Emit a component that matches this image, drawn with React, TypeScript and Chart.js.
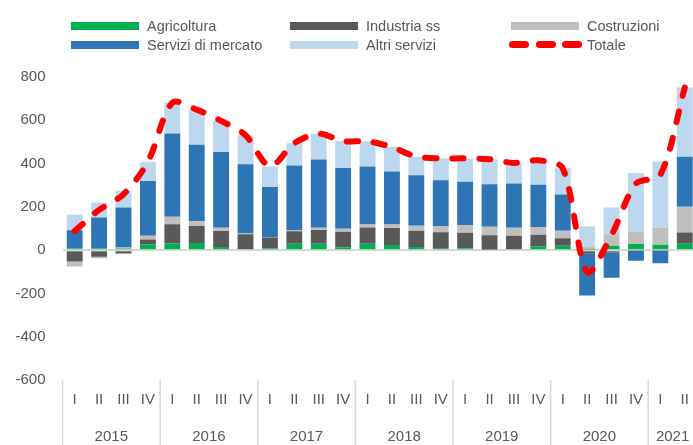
import React, { useEffect, useRef } from 'react';
import { Chart, registerables } from 'chart.js';

Chart.register(...registerables);

const quarters = [
  'I', 'II', 'III', 'IV',
  'I', 'II', 'III', 'IV',
  'I', 'II', 'III', 'IV',
  'I', 'II', 'III', 'IV',
  'I', 'II', 'III', 'IV',
  'I', 'II', 'III', 'IV',
  'I', 'II',
];
const years = ['2015', '2016', '2017', '2018', '2019', '2020', '2021'];
const quartersPerYear = [4, 4, 4, 4, 4, 4, 2];

const agricoltura = [8, 8, 8, 27, 31, 33, 15, 5, 8, 30, 30, 12, 30, 24, 15, 7, 8, 3, 4, 18, 20, 2, 20, 28, 25, 30];
const industria = [-53, -31, -16, 22, 89, 78, 74, 68, 50, 57, 63, 73, 75, 78, 75, 76, 72, 66, 63, 53, 35, -17, -10, -3, -3, 51];
const costruzioni = [-23, -6, 4, 17, 34, 22, 14, 4, 2, 4, 10, 14, 14, 16, 23, 28, 36, 39, 37, 36, 35, 12, 54, 58, 79, 119];
const serviziMercato = [84, 143, 185, 254, 385, 354, 351, 320, 232, 300, 316, 281, 268, 245, 233, 212, 200, 197, 204, 195, 167, -193, -117, -46, -58, 231];
const altriServizi = [71, 69, 77, 88, 142, 162, 143, 134, 95, 103, 119, 124, 116, 113, 86, 101, 108, 115, 95, 113, 121, 95, 123, 270, 305, 320];
const totale = [88, 186, 258, 408, 681, 649, 597, 531, 387, 494, 538, 504, 503, 476, 432, 424, 424, 420, 403, 415, 378, -101, 70, 307, 348, 751];

const yTickMin = -600;
const yTickMax = 800;
const yTickStep = 200;

const FONT = '"Liberation Sans", Arial, sans-serif';
const TEXT = '#595959';
const FONT_SIZE = 15;
const LEGEND_FONT_SIZE = 14.5;

const COLORS = {
  agricoltura: '#00B050',
  industria: '#595959',
  costruzioni: '#BFBFBF',
  servizi: '#2E75B6',
  altri: '#BDD7EE',
  totale: '#FF0000',
};

const yearAxisPlugin = {
  id: 'yearAxis',
  afterDraw(chart: any) {
    const x = chart.scales.x;
    const ctx = chart.ctx;
    const half = (x.getPixelForValue(1) - x.getPixelForValue(0)) / 2;
    let idx = 0;
    ctx.save();
    ctx.strokeStyle = '#D9D9D9';
    ctx.lineWidth = 1.5;
    ctx.fillStyle = TEXT;
    ctx.font = `${FONT_SIZE}px ${FONT}`;
    ctx.textAlign = 'center';
    ctx.textBaseline = 'middle';
    years.forEach((yr, i) => {
      const n = quartersPerYear[i];
      const start = x.getPixelForValue(idx) - half;
      ctx.beginPath();
      ctx.moveTo(start, x.top);
      ctx.lineTo(start, chart.height);
      ctx.stroke();
      const c = (x.getPixelForValue(idx) + x.getPixelForValue(idx + n - 1)) / 2;
      ctx.fillText(yr, c, x.top + 57);
      idx += n;
    });
    ctx.restore();
  },
};

const legendItems = [
  { label: 'Agricoltura', color: COLORS.agricoltura, left: 71, top: 26 },
  { label: 'Industria ss', color: COLORS.industria, left: 290, top: 26 },
  { label: 'Costruzioni', color: COLORS.costruzioni, left: 511, top: 26 },
  { label: 'Servizi di mercato', color: COLORS.servizi, left: 71, top: 44.5 },
  { label: 'Altri servizi', color: COLORS.altri, left: 290, top: 44.5 },
];

function Legend() {
  const textStyle: React.CSSProperties = {
    position: 'absolute',
    fontFamily: FONT,
    fontSize: LEGEND_FONT_SIZE,
    color: TEXT,
    lineHeight: '20px',
    whiteSpace: 'nowrap',
  };
  return (
    <>
      {legendItems.map((it) => (
        <React.Fragment key={it.label}>
          <div
            style={{
              position: 'absolute',
              left: it.left,
              top: it.top - 4,
              width: 68,
              height: 8,
              background: it.color,
            }}
          />
          <div style={{ ...textStyle, left: it.left + 76, top: it.top - 10 }}>{it.label}</div>
        </React.Fragment>
      ))}
      {[0, 1, 2].map((i) => (
        <div
          key={i}
          style={{
            position: 'absolute',
            left: 509 + i * 26.5,
            top: 44.5 - 3.5,
            width: 20,
            height: 7,
            borderRadius: 3.5,
            background: COLORS.totale,
          }}
        />
      ))}
      <div style={{ ...textStyle, left: 587, top: 44.5 - 10 }}>Totale</div>
    </>
  );
}

export default function App() {
  const canvasRef = useRef<HTMLCanvasElement | null>(null);

  useEffect(() => {
    if (!canvasRef.current) return;
    const barCommon = {
      type: 'bar' as const,
      stack: 'a',
      order: 1,
      borderWidth: 0,
      barPercentage: 0.65,
      categoryPercentage: 1,
    };
    const chart = new Chart(canvasRef.current, {
      type: 'bar',
      data: {
        labels: quarters,
        datasets: [
          { ...barCommon, label: 'Agricoltura', data: agricoltura, backgroundColor: COLORS.agricoltura },
          { ...barCommon, label: 'Industria ss', data: industria, backgroundColor: COLORS.industria },
          { ...barCommon, label: 'Costruzioni', data: costruzioni, backgroundColor: COLORS.costruzioni },
          { ...barCommon, label: 'Servizi di mercato', data: serviziMercato, backgroundColor: COLORS.servizi },
          { ...barCommon, label: 'Altri servizi', data: altriServizi, backgroundColor: COLORS.altri },
          {
            type: 'line' as const,
            label: 'Totale',
            data: totale,
            stack: 'total',
            order: 0,
            borderColor: COLORS.totale,
            borderWidth: 6,
            borderDash: [11, 16],
            borderCapStyle: 'round',
            borderJoinStyle: 'round',
            tension: 0.3,
            pointRadius: 0,
            fill: false,
          } as any,
        ],
      },
      options: {
        responsive: false,
        animation: false,
        devicePixelRatio: 1,
        layout: { padding: { top: 77, left: 0, right: 3, bottom: 0 } },
        plugins: { legend: { display: false }, tooltip: { enabled: false }, title: { display: false } },
        scales: {
          x: {
            stacked: true,
            grid: { display: false, drawTicks: false },
            border: { display: false },
            ticks: {
              color: TEXT,
              font: { family: FONT, size: FONT_SIZE },
              padding: 11,
              maxRotation: 0,
              autoSkip: false,
            },
            afterFit: (scale: any) => {
              scale.height = 65;
            },
          },
          y: {
            stacked: true,
            min: yTickMin,
            max: yTickMax,
            grid: {
              drawTicks: false,
              color: (c: any) => (c.tick && c.tick.value === 0 ? '#D9D9D9' : 'rgba(0,0,0,0)'),
              lineWidth: 2,
            },
            border: { display: false },
            ticks: {
              stepSize: yTickStep,
              color: TEXT,
              font: { family: FONT, size: FONT_SIZE },
              padding: 17,
            },
            afterFit: (scale: any) => {
              scale.width = 62.5;
            },
          },
        },
      },
      plugins: [yearAxisPlugin],
    });
    return () => chart.destroy();
  }, []);

  return (
    <div style={{ position: 'fixed', left: 0, top: 0, width: 700, height: 445, overflow: 'hidden', background: '#fff' }}>
      <canvas ref={canvasRef} width={700} height={445} style={{ position: 'absolute', left: 0, top: 0 }} />
      <Legend />
    </div>
  );
}
